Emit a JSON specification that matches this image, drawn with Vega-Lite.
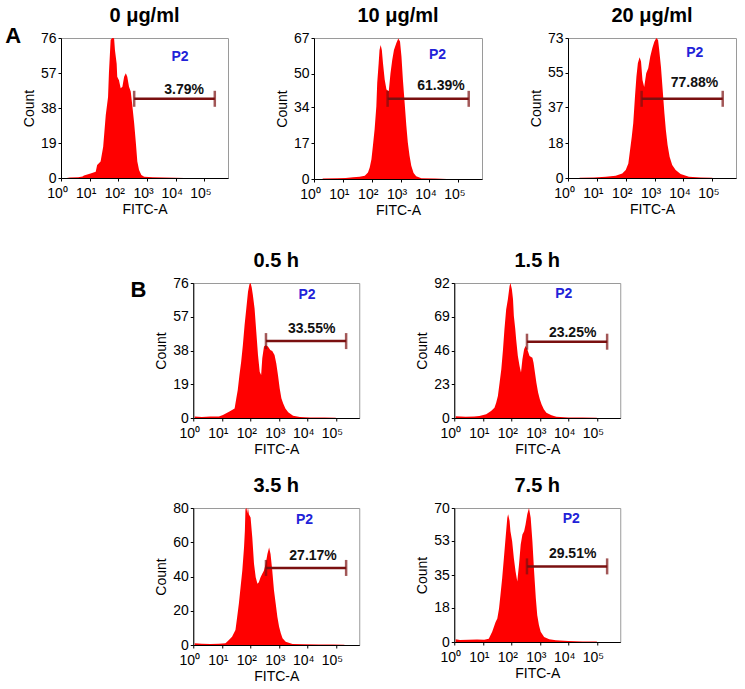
{
  "$schema": "https://vega.github.io/schema/vega-lite/v6.json",
  "background": "white",
  "padding": 5,
  "center": true,
  "spacing": 32,
  "vconcat": [
    {
      "spacing": 0,
      "hconcat": [
        {
          "title": {"text": "A", "orient": "left", "anchor": "end", "angle": 0, "fontSize": 22, "fontWeight": "bold", "baseline": "top", "offset": -15, "dy": -12},
          "spacing": 45,
          "hconcat": [
            {
              "title": "0 μg/ml",
              "width": 167, "height": 140,
              "data": {"values": [
                {"kind": "h", "x": 0.2, "y": 0}, {"kind": "h", "x": 0.3, "y": 0.3}, {"kind": "h", "x": 0.6, "y": 0.4}, {"kind": "h", "x": 0.75, "y": 0.8},
                {"kind": "h", "x": 0.8, "y": 1.3}, {"kind": "h", "x": 1.03, "y": 2.5}, {"kind": "h", "x": 1.21, "y": 3.4}, {"kind": "h", "x": 1.26, "y": 7.1},
                {"kind": "h", "x": 1.38, "y": 8.9}, {"kind": "h", "x": 1.47, "y": 17}, {"kind": "h", "x": 1.56, "y": 34.2}, {"kind": "h", "x": 1.64, "y": 44},
                {"kind": "h", "x": 1.67, "y": 56.8}, {"kind": "h", "x": 1.73, "y": 75}, {"kind": "h", "x": 1.79, "y": 76}, {"kind": "h", "x": 1.85, "y": 75.8},
                {"kind": "h", "x": 1.88, "y": 69.5}, {"kind": "h", "x": 1.94, "y": 62}, {"kind": "h", "x": 1.96, "y": 55}, {"kind": "h", "x": 2.02, "y": 53},
                {"kind": "h", "x": 2.08, "y": 48.7}, {"kind": "h", "x": 2.14, "y": 49.6}, {"kind": "h", "x": 2.2, "y": 55}, {"kind": "h", "x": 2.26, "y": 56.8},
                {"kind": "h", "x": 2.31, "y": 55}, {"kind": "h", "x": 2.37, "y": 49.6}, {"kind": "h", "x": 2.43, "y": 46.9}, {"kind": "h", "x": 2.49, "y": 38.7},
                {"kind": "h", "x": 2.55, "y": 29.7}, {"kind": "h", "x": 2.61, "y": 18.8}, {"kind": "h", "x": 2.66, "y": 8.9}, {"kind": "h", "x": 2.72, "y": 4.3},
                {"kind": "h", "x": 2.8, "y": 1.6}, {"kind": "h", "x": 2.9, "y": 0.7}, {"kind": "h", "x": 3.2, "y": 0.4}, {"kind": "h", "x": 3.6, "y": 0.3},
                {"kind": "h", "x": 4.0, "y": 0.2}, {"kind": "h", "x": 4.3, "y": 0},
                {"kind": "gate", "x": 2.55, "y": 43}, {"kind": "gate", "x": 5.36, "y": 43},
                {"kind": "pct", "x": 4.29, "y": 47.9, "label": "3.79%"},
                {"kind": "p2", "x": 4.15, "y": 65.7, "label": "P2"}
              ]},
              "encoding": {
                "x": {"field": "x", "type": "quantitative", "scale": {"domain": [0, 5.82]}, "axis": {"values": [0, 1, 2, 3, 4, 5], "title": "FITC-A", "labelExpr": "'10' + ['⁰','¹','²','³','⁴','⁵'][datum.value]"}},
                "y": {"field": "y", "type": "quantitative", "scale": {"domain": [0, 76]}, "axis": {"values": [0, 19, 38, 57, 76], "title": "Count"}}
              },
              "layer": [
                {"transform": [{"filter": "datum.kind === 'h'"}], "mark": {"type": "area", "color": "#ff0000"}},
                {"transform": [{"filter": "datum.kind === 'gate'"}], "mark": {"type": "line", "color": "#7a1010", "strokeWidth": 2.5}},
                {"transform": [{"filter": "datum.kind === 'gate'"}], "mark": {"type": "tick", "orient": "vertical", "color": "#7a1010", "thickness": 2.5, "size": 16}},
                {"transform": [{"filter": "datum.kind === 'pct'"}], "mark": {"type": "text", "fontWeight": "bold", "fontSize": 14, "color": "#111"}, "encoding": {"text": {"field": "label"}}},
                {"transform": [{"filter": "datum.kind === 'p2'"}], "mark": {"type": "text", "fontWeight": "bold", "fontSize": 14, "color": "#2222d8"}, "encoding": {"text": {"field": "label"}}}
              ]
            },
            {
              "title": "10 μg/ml",
              "width": 168, "height": 141,
              "data": {"values": [
                {"kind": "h", "x": 0.3, "y": 0.2}, {"kind": "h", "x": 0.8, "y": 0.3}, {"kind": "h", "x": 1.1, "y": 0.5}, {"kind": "h", "x": 1.35, "y": 0.8},
                {"kind": "h", "x": 1.58, "y": 1.1}, {"kind": "h", "x": 1.76, "y": 1.6}, {"kind": "h", "x": 1.87, "y": 3.1}, {"kind": "h", "x": 1.93, "y": 5.5},
                {"kind": "h", "x": 1.99, "y": 9.4}, {"kind": "h", "x": 2.04, "y": 15.7}, {"kind": "h", "x": 2.1, "y": 23.6}, {"kind": "h", "x": 2.16, "y": 34.6},
                {"kind": "h", "x": 2.19, "y": 45.6}, {"kind": "h", "x": 2.24, "y": 55}, {"kind": "h", "x": 2.27, "y": 61.3}, {"kind": "h", "x": 2.31, "y": 63.7},
                {"kind": "h", "x": 2.35, "y": 61.3}, {"kind": "h", "x": 2.39, "y": 55}, {"kind": "h", "x": 2.45, "y": 47.2}, {"kind": "h", "x": 2.51, "y": 42.5},
                {"kind": "h", "x": 2.59, "y": 41.7}, {"kind": "h", "x": 2.65, "y": 50.3}, {"kind": "h", "x": 2.71, "y": 56.6}, {"kind": "h", "x": 2.77, "y": 61.3},
                {"kind": "h", "x": 2.85, "y": 64.5}, {"kind": "h", "x": 2.92, "y": 66.8}, {"kind": "h", "x": 2.98, "y": 65.3}, {"kind": "h", "x": 3.03, "y": 58.2},
                {"kind": "h", "x": 3.08, "y": 47.2}, {"kind": "h", "x": 3.14, "y": 36.2}, {"kind": "h", "x": 3.2, "y": 25.2}, {"kind": "h", "x": 3.25, "y": 17.3},
                {"kind": "h", "x": 3.31, "y": 11}, {"kind": "h", "x": 3.37, "y": 6.3}, {"kind": "h", "x": 3.45, "y": 2.8}, {"kind": "h", "x": 3.54, "y": 1.3},
                {"kind": "h", "x": 3.72, "y": 0.3}, {"kind": "h", "x": 4.2, "y": 0.2}, {"kind": "h", "x": 4.6, "y": 0},
                {"kind": "gate", "x": 2.55, "y": 38.1}, {"kind": "gate", "x": 5.36, "y": 38.1},
                {"kind": "pct", "x": 4.4, "y": 44.0, "label": "61.39%"},
                {"kind": "p2", "x": 4.28, "y": 59, "label": "P2"}
              ]},
              "encoding": {
                "x": {"field": "x", "type": "quantitative", "scale": {"domain": [0, 5.82]}, "axis": {"values": [0, 1, 2, 3, 4, 5], "title": "FITC-A", "labelExpr": "'10' + ['⁰','¹','²','³','⁴','⁵'][datum.value]"}},
                "y": {"field": "y", "type": "quantitative", "scale": {"domain": [0, 67]}, "axis": {"values": [0, 17, 34, 50, 67], "title": "Count"}}
              },
              "layer": [
                {"transform": [{"filter": "datum.kind === 'h'"}], "mark": {"type": "area", "color": "#ff0000"}},
                {"transform": [{"filter": "datum.kind === 'gate'"}], "mark": {"type": "line", "color": "#7a1010", "strokeWidth": 2.5}},
                {"transform": [{"filter": "datum.kind === 'gate'"}], "mark": {"type": "tick", "orient": "vertical", "color": "#7a1010", "thickness": 2.5, "size": 16}},
                {"transform": [{"filter": "datum.kind === 'pct'"}], "mark": {"type": "text", "fontWeight": "bold", "fontSize": 14, "color": "#111"}, "encoding": {"text": {"field": "label"}}},
                {"transform": [{"filter": "datum.kind === 'p2'"}], "mark": {"type": "text", "fontWeight": "bold", "fontSize": 14, "color": "#2222d8"}, "encoding": {"text": {"field": "label"}}}
              ]
            },
            {
              "title": "20 μg/ml",
              "width": 168, "height": 140,
              "data": {"values": [
                {"kind": "h", "x": 0.4, "y": 0.1}, {"kind": "h", "x": 0.9, "y": 0.3}, {"kind": "h", "x": 1.31, "y": 0.7}, {"kind": "h", "x": 1.65, "y": 1.2},
                {"kind": "h", "x": 1.88, "y": 2.4}, {"kind": "h", "x": 2.0, "y": 4.2}, {"kind": "h", "x": 2.09, "y": 7.6}, {"kind": "h", "x": 2.15, "y": 14.6},
                {"kind": "h", "x": 2.21, "y": 21.6}, {"kind": "h", "x": 2.26, "y": 28.5}, {"kind": "h", "x": 2.32, "y": 42.4}, {"kind": "h", "x": 2.37, "y": 52.8},
                {"kind": "h", "x": 2.42, "y": 59.8}, {"kind": "h", "x": 2.48, "y": 62.9}, {"kind": "h", "x": 2.53, "y": 60.7}, {"kind": "h", "x": 2.58, "y": 51.1},
                {"kind": "h", "x": 2.64, "y": 47.5}, {"kind": "h", "x": 2.71, "y": 54.6}, {"kind": "h", "x": 2.78, "y": 57.2}, {"kind": "h", "x": 2.85, "y": 63.3},
                {"kind": "h", "x": 2.92, "y": 67.6}, {"kind": "h", "x": 2.99, "y": 71.1}, {"kind": "h", "x": 3.06, "y": 73}, {"kind": "h", "x": 3.12, "y": 72},
                {"kind": "h", "x": 3.16, "y": 66.7}, {"kind": "h", "x": 3.22, "y": 58}, {"kind": "h", "x": 3.28, "y": 45.9}, {"kind": "h", "x": 3.34, "y": 33.7},
                {"kind": "h", "x": 3.39, "y": 25}, {"kind": "h", "x": 3.45, "y": 17.2}, {"kind": "h", "x": 3.52, "y": 11.1}, {"kind": "h", "x": 3.61, "y": 6.8},
                {"kind": "h", "x": 3.73, "y": 4.2}, {"kind": "h", "x": 3.9, "y": 2.1}, {"kind": "h", "x": 4.19, "y": 0.7}, {"kind": "h", "x": 4.6, "y": 0.3},
                {"kind": "h", "x": 5.0, "y": 0.1},
                {"kind": "gate", "x": 2.55, "y": 41.3}, {"kind": "gate", "x": 5.36, "y": 41.3},
                {"kind": "pct", "x": 4.38, "y": 49.5, "label": "77.88%"},
                {"kind": "p2", "x": 4.39, "y": 65, "label": "P2"}
              ]},
              "encoding": {
                "x": {"field": "x", "type": "quantitative", "scale": {"domain": [0, 5.82]}, "axis": {"values": [0, 1, 2, 3, 4, 5], "title": "FITC-A", "labelExpr": "'10' + ['⁰','¹','²','³','⁴','⁵'][datum.value]"}},
                "y": {"field": "y", "type": "quantitative", "scale": {"domain": [0, 73]}, "axis": {"values": [0, 18, 37, 55, 73], "title": "Count"}}
              },
              "layer": [
                {"transform": [{"filter": "datum.kind === 'h'"}], "mark": {"type": "area", "color": "#ff0000"}},
                {"transform": [{"filter": "datum.kind === 'gate'"}], "mark": {"type": "line", "color": "#7a1010", "strokeWidth": 2.5}},
                {"transform": [{"filter": "datum.kind === 'gate'"}], "mark": {"type": "tick", "orient": "vertical", "color": "#7a1010", "thickness": 2.5, "size": 16}},
                {"transform": [{"filter": "datum.kind === 'pct'"}], "mark": {"type": "text", "fontWeight": "bold", "fontSize": 14, "color": "#111"}, "encoding": {"text": {"field": "label"}}},
                {"transform": [{"filter": "datum.kind === 'p2'"}], "mark": {"type": "text", "fontWeight": "bold", "fontSize": 14, "color": "#2222d8"}, "encoding": {"text": {"field": "label"}}}
              ]
            }
          ]
        },
        {
          "width": 16, "height": 10,
          "data": {"values": [{"v": 0}]},
          "mark": {"type": "point", "opacity": 0},
          "encoding": {},
          "view": {"stroke": null}
        }
      ]
    },
    {
      "title": {"text": "\u00a0", "orient": "left", "fontSize": 2, "offset": 13},
      "vconcat": [
        {
          "title": {"text": "B", "orient": "left", "anchor": "end", "angle": 0, "fontSize": 22, "fontWeight": "bold", "baseline": "top", "offset": -8, "dy": -3},
          "spacing": 18,
          "vconcat": [
            {
              "spacing": 54,
              "hconcat": [
                {
                  "title": "0.5 h",
                  "width": 166, "height": 135,
                  "data": {"values": [
                    {"kind": "h", "x": 0.05, "y": 0.8}, {"kind": "h", "x": 0.3, "y": 0.6}, {"kind": "h", "x": 0.6, "y": 0.8}, {"kind": "h", "x": 0.9, "y": 0.9},
                    {"kind": "h", "x": 1.04, "y": 1.7}, {"kind": "h", "x": 1.27, "y": 3.6}, {"kind": "h", "x": 1.45, "y": 5.4}, {"kind": "h", "x": 1.51, "y": 11.1},
                    {"kind": "h", "x": 1.56, "y": 15.8}, {"kind": "h", "x": 1.62, "y": 24.2}, {"kind": "h", "x": 1.68, "y": 31.7}, {"kind": "h", "x": 1.74, "y": 41.1},
                    {"kind": "h", "x": 1.8, "y": 52.4}, {"kind": "h", "x": 1.86, "y": 61.7}, {"kind": "h", "x": 1.92, "y": 71.1}, {"kind": "h", "x": 1.97, "y": 75.3},
                    {"kind": "h", "x": 2.01, "y": 76}, {"kind": "h", "x": 2.05, "y": 73.5}, {"kind": "h", "x": 2.09, "y": 69.2}, {"kind": "h", "x": 2.15, "y": 61.7},
                    {"kind": "h", "x": 2.21, "y": 48.6}, {"kind": "h", "x": 2.27, "y": 35.5}, {"kind": "h", "x": 2.33, "y": 26.1}, {"kind": "h", "x": 2.38, "y": 24.2},
                    {"kind": "h", "x": 2.42, "y": 33.6}, {"kind": "h", "x": 2.48, "y": 40.2}, {"kind": "h", "x": 2.54, "y": 41}, {"kind": "h", "x": 2.62, "y": 40.2},
                    {"kind": "h", "x": 2.7, "y": 38.3}, {"kind": "h", "x": 2.77, "y": 37.7}, {"kind": "h", "x": 2.85, "y": 35.5}, {"kind": "h", "x": 2.91, "y": 30.8},
                    {"kind": "h", "x": 2.97, "y": 24.2}, {"kind": "h", "x": 3.03, "y": 16.7}, {"kind": "h", "x": 3.09, "y": 11.1}, {"kind": "h", "x": 3.15, "y": 8.3},
                    {"kind": "h", "x": 3.23, "y": 5.4}, {"kind": "h", "x": 3.33, "y": 3.2}, {"kind": "h", "x": 3.5, "y": 1.3}, {"kind": "h", "x": 3.74, "y": 0.6},
                    {"kind": "h", "x": 4.1, "y": 0.3}, {"kind": "h", "x": 4.6, "y": 0.3}, {"kind": "h", "x": 5.0, "y": 0.1},
                    {"kind": "gate", "x": 2.55, "y": 43.3}, {"kind": "gate", "x": 5.36, "y": 43.3},
                    {"kind": "pct", "x": 4.15, "y": 50.1, "label": "33.55%"},
                    {"kind": "p2", "x": 3.99, "y": 69.2, "label": "P2"}
                  ]},
                  "encoding": {
                    "x": {"field": "x", "type": "quantitative", "scale": {"domain": [0, 5.82]}, "axis": {"values": [0, 1, 2, 3, 4, 5], "title": "FITC-A", "labelExpr": "'10' + ['⁰','¹','²','³','⁴','⁵'][datum.value]"}},
                    "y": {"field": "y", "type": "quantitative", "scale": {"domain": [0, 76]}, "axis": {"values": [0, 19, 38, 57, 76], "title": "Count"}}
                  },
                  "layer": [
                    {"transform": [{"filter": "datum.kind === 'h'"}], "mark": {"type": "area", "color": "#ff0000"}},
                    {"transform": [{"filter": "datum.kind === 'gate'"}], "mark": {"type": "line", "color": "#7a1010", "strokeWidth": 2.5}},
                    {"transform": [{"filter": "datum.kind === 'gate'"}], "mark": {"type": "tick", "orient": "vertical", "color": "#7a1010", "thickness": 2.5, "size": 16}},
                    {"transform": [{"filter": "datum.kind === 'pct'"}], "mark": {"type": "text", "fontWeight": "bold", "fontSize": 14, "color": "#111"}, "encoding": {"text": {"field": "label"}}},
                    {"transform": [{"filter": "datum.kind === 'p2'"}], "mark": {"type": "text", "fontWeight": "bold", "fontSize": 14, "color": "#2222d8"}, "encoding": {"text": {"field": "label"}}}
                  ]
                },
                {
                  "title": "1.5 h",
                  "width": 166, "height": 135,
                  "data": {"values": [
                    {"kind": "h", "x": 0.05, "y": 1.2}, {"kind": "h", "x": 0.4, "y": 0.8}, {"kind": "h", "x": 0.7, "y": 1.0}, {"kind": "h", "x": 0.88, "y": 1.4},
                    {"kind": "h", "x": 1.12, "y": 2.5}, {"kind": "h", "x": 1.29, "y": 4.8}, {"kind": "h", "x": 1.41, "y": 7}, {"kind": "h", "x": 1.47, "y": 10.4},
                    {"kind": "h", "x": 1.53, "y": 15}, {"kind": "h", "x": 1.59, "y": 24.1}, {"kind": "h", "x": 1.65, "y": 33.2}, {"kind": "h", "x": 1.71, "y": 46.8},
                    {"kind": "h", "x": 1.76, "y": 60.4}, {"kind": "h", "x": 1.82, "y": 74}, {"kind": "h", "x": 1.88, "y": 80.9}, {"kind": "h", "x": 1.94, "y": 90},
                    {"kind": "h", "x": 1.97, "y": 92}, {"kind": "h", "x": 2.02, "y": 87.7}, {"kind": "h", "x": 2.06, "y": 80.9}, {"kind": "h", "x": 2.09, "y": 69.5},
                    {"kind": "h", "x": 2.14, "y": 60.4}, {"kind": "h", "x": 2.17, "y": 53.6}, {"kind": "h", "x": 2.23, "y": 42.3}, {"kind": "h", "x": 2.29, "y": 35.4},
                    {"kind": "h", "x": 2.34, "y": 31}, {"kind": "h", "x": 2.39, "y": 40}, {"kind": "h", "x": 2.45, "y": 46.8}, {"kind": "h", "x": 2.5, "y": 49},
                    {"kind": "h", "x": 2.56, "y": 46.8}, {"kind": "h", "x": 2.64, "y": 42.3}, {"kind": "h", "x": 2.74, "y": 41.1}, {"kind": "h", "x": 2.78, "y": 37.7},
                    {"kind": "h", "x": 2.83, "y": 30.9}, {"kind": "h", "x": 2.88, "y": 24.1}, {"kind": "h", "x": 2.94, "y": 17.3}, {"kind": "h", "x": 3.0, "y": 12.7},
                    {"kind": "h", "x": 3.06, "y": 9.3}, {"kind": "h", "x": 3.14, "y": 5.9}, {"kind": "h", "x": 3.23, "y": 3.6}, {"kind": "h", "x": 3.41, "y": 1.8},
                    {"kind": "h", "x": 3.58, "y": 0.9}, {"kind": "h", "x": 4.0, "y": 0.4}, {"kind": "h", "x": 4.5, "y": 0.3}, {"kind": "h", "x": 5.0, "y": 0.1},
                    {"kind": "gate", "x": 2.55, "y": 52}, {"kind": "gate", "x": 5.36, "y": 52},
                    {"kind": "pct", "x": 4.15, "y": 58.1, "label": "23.25%"},
                    {"kind": "p2", "x": 3.84, "y": 84.3, "label": "P2"}
                  ]},
                  "encoding": {
                    "x": {"field": "x", "type": "quantitative", "scale": {"domain": [0, 5.82]}, "axis": {"values": [0, 1, 2, 3, 4, 5], "title": "FITC-A", "labelExpr": "'10' + ['⁰','¹','²','³','⁴','⁵'][datum.value]"}},
                    "y": {"field": "y", "type": "quantitative", "scale": {"domain": [0, 92]}, "axis": {"values": [0, 23, 46, 69, 92], "title": "Count"}}
                  },
                  "layer": [
                    {"transform": [{"filter": "datum.kind === 'h'"}], "mark": {"type": "area", "color": "#ff0000"}},
                    {"transform": [{"filter": "datum.kind === 'gate'"}], "mark": {"type": "line", "color": "#7a1010", "strokeWidth": 2.5}},
                    {"transform": [{"filter": "datum.kind === 'gate'"}], "mark": {"type": "tick", "orient": "vertical", "color": "#7a1010", "thickness": 2.5, "size": 16}},
                    {"transform": [{"filter": "datum.kind === 'pct'"}], "mark": {"type": "text", "fontWeight": "bold", "fontSize": 14, "color": "#111"}, "encoding": {"text": {"field": "label"}}},
                    {"transform": [{"filter": "datum.kind === 'p2'"}], "mark": {"type": "text", "fontWeight": "bold", "fontSize": 14, "color": "#2222d8"}, "encoding": {"text": {"field": "label"}}}
                  ]
                }
              ]
            },
            {
              "spacing": 54,
              "hconcat": [
                {
                  "title": "3.5 h",
                  "width": 166, "height": 137,
                  "data": {"values": [
                    {"kind": "h", "x": 0.05, "y": 1.0}, {"kind": "h", "x": 0.3, "y": 0.8}, {"kind": "h", "x": 0.6, "y": 0.6}, {"kind": "h", "x": 0.9, "y": 0.8},
                    {"kind": "h", "x": 1.13, "y": 1.0}, {"kind": "h", "x": 1.25, "y": 2.9}, {"kind": "h", "x": 1.36, "y": 4.8}, {"kind": "h", "x": 1.48, "y": 8.7},
                    {"kind": "h", "x": 1.54, "y": 16.4}, {"kind": "h", "x": 1.6, "y": 24.2}, {"kind": "h", "x": 1.66, "y": 33.8}, {"kind": "h", "x": 1.72, "y": 43.5},
                    {"kind": "h", "x": 1.78, "y": 57}, {"kind": "h", "x": 1.81, "y": 66.7}, {"kind": "h", "x": 1.83, "y": 79.2}, {"kind": "h", "x": 1.87, "y": 80},
                    {"kind": "h", "x": 1.89, "y": 77}, {"kind": "h", "x": 1.92, "y": 80}, {"kind": "h", "x": 1.95, "y": 76.3}, {"kind": "h", "x": 2.01, "y": 74.4},
                    {"kind": "h", "x": 2.07, "y": 62.8}, {"kind": "h", "x": 2.13, "y": 47.4}, {"kind": "h", "x": 2.19, "y": 39.6}, {"kind": "h", "x": 2.25, "y": 35.8},
                    {"kind": "h", "x": 2.3, "y": 36.7}, {"kind": "h", "x": 2.36, "y": 39.6}, {"kind": "h", "x": 2.42, "y": 41.6}, {"kind": "h", "x": 2.48, "y": 43.5},
                    {"kind": "h", "x": 2.54, "y": 47.4}, {"kind": "h", "x": 2.6, "y": 53.2}, {"kind": "h", "x": 2.66, "y": 57}, {"kind": "h", "x": 2.71, "y": 53.2},
                    {"kind": "h", "x": 2.77, "y": 43.5}, {"kind": "h", "x": 2.83, "y": 31.9}, {"kind": "h", "x": 2.89, "y": 24.2}, {"kind": "h", "x": 2.95, "y": 16.4},
                    {"kind": "h", "x": 3.01, "y": 10.6}, {"kind": "h", "x": 3.07, "y": 6.8}, {"kind": "h", "x": 3.13, "y": 3.9}, {"kind": "h", "x": 3.24, "y": 1.9},
                    {"kind": "h", "x": 3.48, "y": 0.6}, {"kind": "h", "x": 3.9, "y": 0.4}, {"kind": "h", "x": 4.4, "y": 0.3}, {"kind": "h", "x": 4.9, "y": 0.3},
                    {"kind": "h", "x": 5.3, "y": 0.1},
                    {"kind": "gate", "x": 2.55, "y": 45}, {"kind": "gate", "x": 5.36, "y": 45},
                    {"kind": "pct", "x": 4.2, "y": 52, "label": "27.17%"},
                    {"kind": "p2", "x": 3.9, "y": 72.9, "label": "P2"}
                  ]},
                  "encoding": {
                    "x": {"field": "x", "type": "quantitative", "scale": {"domain": [0, 5.82]}, "axis": {"values": [0, 1, 2, 3, 4, 5], "title": "FITC-A", "labelExpr": "'10' + ['⁰','¹','²','³','⁴','⁵'][datum.value]"}},
                    "y": {"field": "y", "type": "quantitative", "scale": {"domain": [0, 80]}, "axis": {"values": [0, 20, 40, 60, 80], "title": "Count"}}
                  },
                  "layer": [
                    {"transform": [{"filter": "datum.kind === 'h'"}], "mark": {"type": "area", "color": "#ff0000"}},
                    {"transform": [{"filter": "datum.kind === 'gate'"}], "mark": {"type": "line", "color": "#7a1010", "strokeWidth": 2.5}},
                    {"transform": [{"filter": "datum.kind === 'gate'"}], "mark": {"type": "tick", "orient": "vertical", "color": "#7a1010", "thickness": 2.5, "size": 16}},
                    {"transform": [{"filter": "datum.kind === 'pct'"}], "mark": {"type": "text", "fontWeight": "bold", "fontSize": 14, "color": "#111"}, "encoding": {"text": {"field": "label"}}},
                    {"transform": [{"filter": "datum.kind === 'p2'"}], "mark": {"type": "text", "fontWeight": "bold", "fontSize": 14, "color": "#2222d8"}, "encoding": {"text": {"field": "label"}}}
                  ]
                },
                {
                  "title": "7.5 h",
                  "width": 166, "height": 134,
                  "data": {"values": [
                    {"kind": "h", "x": 0.05, "y": 1.5}, {"kind": "h", "x": 0.2, "y": 1.0}, {"kind": "h", "x": 0.5, "y": 1.2}, {"kind": "h", "x": 0.8, "y": 1.3},
                    {"kind": "h", "x": 1.05, "y": 1.2}, {"kind": "h", "x": 1.21, "y": 1.7}, {"kind": "h", "x": 1.33, "y": 5.3}, {"kind": "h", "x": 1.45, "y": 10.5},
                    {"kind": "h", "x": 1.51, "y": 12.3}, {"kind": "h", "x": 1.57, "y": 17.5}, {"kind": "h", "x": 1.62, "y": 24.6}, {"kind": "h", "x": 1.68, "y": 33.3},
                    {"kind": "h", "x": 1.74, "y": 43.8}, {"kind": "h", "x": 1.8, "y": 54.4}, {"kind": "h", "x": 1.86, "y": 64.9}, {"kind": "h", "x": 1.89, "y": 66.7},
                    {"kind": "h", "x": 1.94, "y": 63.2}, {"kind": "h", "x": 1.97, "y": 57.9}, {"kind": "h", "x": 2.03, "y": 52.6}, {"kind": "h", "x": 2.09, "y": 43.8},
                    {"kind": "h", "x": 2.15, "y": 36.8}, {"kind": "h", "x": 2.21, "y": 31.6}, {"kind": "h", "x": 2.27, "y": 40.4}, {"kind": "h", "x": 2.33, "y": 50.9},
                    {"kind": "h", "x": 2.39, "y": 56.2}, {"kind": "h", "x": 2.45, "y": 57.9}, {"kind": "h", "x": 2.5, "y": 61.4}, {"kind": "h", "x": 2.56, "y": 66.7},
                    {"kind": "h", "x": 2.62, "y": 70}, {"kind": "h", "x": 2.68, "y": 64.9}, {"kind": "h", "x": 2.74, "y": 52.6}, {"kind": "h", "x": 2.8, "y": 36.8},
                    {"kind": "h", "x": 2.86, "y": 22.8}, {"kind": "h", "x": 2.91, "y": 14}, {"kind": "h", "x": 2.97, "y": 8.8}, {"kind": "h", "x": 3.03, "y": 5.3},
                    {"kind": "h", "x": 3.15, "y": 2.6}, {"kind": "h", "x": 3.33, "y": 1.4}, {"kind": "h", "x": 3.56, "y": 0.9}, {"kind": "h", "x": 4.0, "y": 0.5},
                    {"kind": "h", "x": 4.5, "y": 0.3}, {"kind": "h", "x": 5.0, "y": 0.2},
                    {"kind": "gate", "x": 2.55, "y": 39.5}, {"kind": "gate", "x": 5.36, "y": 39.5},
                    {"kind": "pct", "x": 4.15, "y": 46.1, "label": "29.51%"},
                    {"kind": "p2", "x": 4.1, "y": 64, "label": "P2"}
                  ]},
                  "encoding": {
                    "x": {"field": "x", "type": "quantitative", "scale": {"domain": [0, 5.82]}, "axis": {"values": [0, 1, 2, 3, 4, 5], "title": "FITC-A", "labelExpr": "'10' + ['⁰','¹','²','³','⁴','⁵'][datum.value]"}},
                    "y": {"field": "y", "type": "quantitative", "scale": {"domain": [0, 70]}, "axis": {"values": [0, 18, 35, 53, 70], "title": "Count"}}
                  },
                  "layer": [
                    {"transform": [{"filter": "datum.kind === 'h'"}], "mark": {"type": "area", "color": "#ff0000"}},
                    {"transform": [{"filter": "datum.kind === 'gate'"}], "mark": {"type": "line", "color": "#7a1010", "strokeWidth": 2.5}},
                    {"transform": [{"filter": "datum.kind === 'gate'"}], "mark": {"type": "tick", "orient": "vertical", "color": "#7a1010", "thickness": 2.5, "size": 16}},
                    {"transform": [{"filter": "datum.kind === 'pct'"}], "mark": {"type": "text", "fontWeight": "bold", "fontSize": 14, "color": "#111"}, "encoding": {"text": {"field": "label"}}},
                    {"transform": [{"filter": "datum.kind === 'p2'"}], "mark": {"type": "text", "fontWeight": "bold", "fontSize": 14, "color": "#2222d8"}, "encoding": {"text": {"field": "label"}}}
                  ]
                }
              ]
            }
          ]
        }
      ]
    }
  ],
  "config": {
    "font": "Liberation Sans",
    "view": {"stroke": "#9a9a9a", "strokeWidth": 1},
    "axis": {
      "grid": false, "domainColor": "#000", "domainWidth": 1, "tickColor": "#000", "tickSize": 3,
      "labelColor": "#000", "titleColor": "#000", "labelFontSize": 14, "titleFontSize": 14,
      "titleFontWeight": "normal", "labelFont": "Liberation Sans", "titleFont": "Liberation Sans"
    },
    "axisX": {"labelFont": "Liberation Sans Narrow, Liberation Sans", "labelFlush": false, "labelPadding": 5, "titlePadding": 2, "labelOffset": -4},
    "axisY": {"labelFlush": false, "labelPadding": 2, "titlePadding": 4},
    "title": {"fontSize": 20, "fontWeight": "bold", "font": "Liberation Sans", "frame": "group", "anchor": "middle", "color": "#000", "offset": 5}
  }
}
